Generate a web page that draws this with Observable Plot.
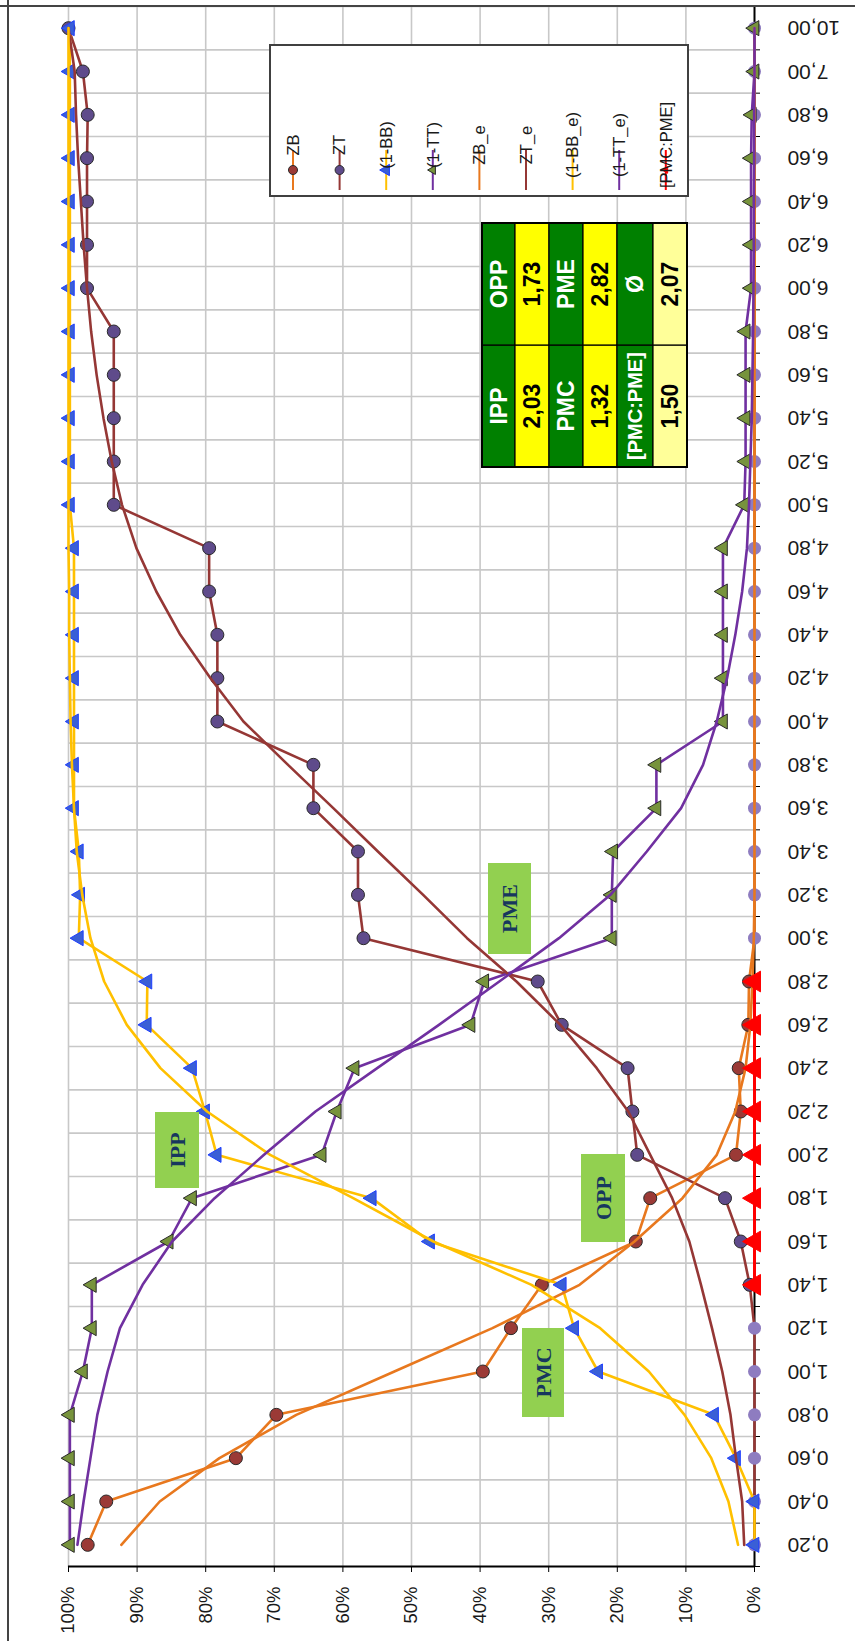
<!DOCTYPE html>
<html>
<head>
<meta charset="utf-8">
<script src="https://cdn.jsdelivr.net/npm/d3@7"></script>
<script src="https://cdn.jsdelivr.net/npm/@observablehq/plot@0.6"></script>
<style>
html,body{margin:0;padding:0;background:#fff;}
body{width:855px;height:1641px;overflow:hidden;position:relative;}
#wrap{position:absolute;left:0;top:0;width:1641px;height:855px;transform-origin:0 0;transform:translate(0,1641px) rotate(-90deg);}
</style>
</head>
<body>
<div id="wrap"></div>
<script>
// ---------- data ----------
const categories = ["0,20","0,40","0,60","0,80","1,00","1,20","1,40","1,60","1,80","2,00","2,20","2,40","2,60","2,80","3,00","3,20","3,40","3,60","3,80","4,00","4,20","4,40","4,60","4,80","5,00","5,20","5,40","5,60","5,80","6,00","6,20","6,40","6,60","6,80","7,00","10,00"];
const yTicks = [0,10,20,30,40,50,60,70,80,90,100];

const ZB   = [97.2,94.5,75.6,69.7,39.6,35.5,31.0,17.3,15.2,2.7,2.0,2.3,0.9,0.8,0,0,0,0,0,0,0,0,0,0,0,0,0,0,0,0,0,0,0,0,0,0];
const ZT   = [0,0,0,0,0,0,0.7,2.0,4.3,17.1,17.8,18.5,28.1,31.6,57.0,57.8,57.8,64.3,64.3,78.3,78.3,78.3,79.5,79.5,93.4,93.4,93.4,93.4,93.4,97.3,97.3,97.3,97.3,97.2,97.9,100];
const BB1  = [0,0,2.7,5.9,22.8,26.3,28.1,47.3,55.8,78.4,80.1,82.0,88.6,88.5,98.5,98.3,98.5,99.2,99.2,99.2,99.2,99.2,99.2,99.2,99.8,99.8,99.8,99.8,99.8,99.8,99.8,99.8,99.8,99.8,99.8,99.8];
const TT1  = [99.8,99.8,99.8,99.8,97.9,96.6,96.6,85.4,82.0,63.1,60.9,58.3,41.4,39.4,20.8,20.8,20.6,14.3,14.3,4.6,4.6,4.6,4.6,4.6,1.5,1.3,1.3,1.3,1.3,0.5,0.5,0.5,0.5,0.4,0,0];
const ZB_e = [92.3,86.7,78.0,66.8,52.5,38.2,25.5,17.5,10.5,5.5,2.8,1.3,0.6,0.3,0.1,0,0,0,0,0,0,0,0,0,0,0,0,0,0,0,0,0,0,0,0,0];
const ZT_e = [1.5,1.8,2.7,3.5,4.7,6.2,7.8,9.5,12.0,15.2,18.4,23.0,28.3,34.7,41.9,48.3,54.9,61.4,68.0,74.5,79.3,83.7,87.2,90.1,92.2,93.7,94.9,95.9,96.7,97.3,97.8,98.2,98.6,98.9,99.1,100];
const BB_e = [2.4,3.8,6.3,10.2,15.4,22.5,32.5,46.8,58.5,70.6,79.8,86.6,91.5,94.8,96.8,98.0,98.8,99.2,99.5,99.7,99.8,99.9,99.9,100,100,100,100,100,100,100,100,100,100,100,100,100];
const TT_e = [98.7,97.8,96.8,95.8,94.3,92.5,89.2,84.9,78.7,71.5,64.0,55.0,46.0,37.2,28.5,21.0,15.7,10.7,7.5,5.5,4.0,2.8,1.8,1.1,0.8,0.6,0.4,0.3,0.2,0.15,0.1,0.1,0.05,0.05,0,0];
const PMCPME = [null,null,null,null,null,null,0,0,0,0,0,0,0,0,null,null,null,null,null,null,null,null,null,null,null,null,null,null,null,null,null,null,null,null,null,null];

const seriesNames = ["ZB","ZT","(1-BB)","(1-TT)","ZB_e","ZT_e","(1-BB_e)","(1-TT_e)","[PMC:PME]"];

const tableLabelsA = ["IPP","PMC","[PMC:PME]"];
const tableValuesA = ["2,03","1,32","1,50"];
const tableLabelsB = ["OPP","PME","Ø"];
const tableValuesB = ["1,73","2,82","2,07"];

const annotationLabels = ["PMC","IPP","OPP","PME"];

// ---------- styles ----------
const C = {
  orange: "#e8781e", brown: "#953735", gold: "#ffc000", purple: "#7030a0", red: "#ff0000",
  zbFill: "#9b3a36", ztFill: "#5f4b8b", bbFill: "#3a5fd6", bbStroke: "#1f3fff", ttFill: "#77933c",
  zeroFill: "#8e7cc0", grid: "#c8c8c8"
};

const W = 1641, H = 855;
const rows = v => v.map((val, i) => ({i, v: val}));
const idx = d3.range(categories.length);
const bounds = d3.range(categories.length + 1).map(k => k - 0.5);

const plot = Plot.plot({
  width: W, height: H,
  marginLeft: 74, marginRight: 7, marginTop: 68, marginBottom: 101,
  x: {type: "linear", domain: [-0.5, categories.length - 0.5], axis: null, label: null},
  y: {domain: [0, 100], axis: null, label: null},
  style: {fontFamily: "'Liberation Sans', Arial, sans-serif", background: "white", overflow: "visible"},
  marks: [
    Plot.ruleY(yTicks.filter(d => d > 0), {stroke: C.grid, strokeWidth: 1.6}),
    Plot.ruleX(bounds.slice(1), {stroke: C.grid, strokeWidth: 1.6}),
    Plot.ruleX([bounds[0]], {stroke: "#000", strokeWidth: 2}),
    Plot.ruleY([0], {stroke: "#000", strokeWidth: 2}),
    Plot.axisY(yTicks, {label: null, tickSize: 5, tickPadding: 15, tickFormat: d => d + "%", fontSize: 18.5, stroke: "#000", fill: "#1a1a1a"}),
    Plot.axisX(bounds, {label: null, tickSize: 6, tickFormat: () => "", stroke: "#000"}),
    Plot.axisX(idx, {label: null, tickSize: 0, tickPadding: 33, tickRotate: -90, tickFormat: i => categories[i], fontSize: 21, fill: "#1a1a1a"}),

    // ZB
    Plot.line(rows(ZB), {x: "i", y: "v", stroke: C.orange, strokeWidth: 2.6}),
    Plot.dot(rows(ZB), {x: "i", y: "v", r: 6.5, fill: C.zbFill, stroke: "#2a2a2a", strokeWidth: 1, filter: d => d.v > 0}),
    Plot.dot(rows(ZB), {x: "i", y: "v", r: 6.5, fill: C.zeroFill, filter: d => d.v === 0}),
    // ZT
    Plot.line(rows(ZT), {x: "i", y: "v", stroke: C.brown, strokeWidth: 2.6}),
    Plot.dot(rows(ZT), {x: "i", y: "v", r: 6.5, fill: C.ztFill, stroke: "#2a2a2a", strokeWidth: 1, filter: d => d.v > 0}),
    Plot.dot(rows(ZT), {x: "i", y: "v", r: 6.5, fill: C.zeroFill, filter: d => d.v === 0}),
    // (1-BB)
    Plot.line(rows(BB1), {x: "i", y: "v", stroke: C.gold, strokeWidth: 2.6}),
    Plot.dot(rows(BB1), {x: "i", y: "v", r: 5.6, symbol: "triangle", fill: C.bbFill, stroke: C.bbStroke, strokeWidth: 1}),
    // (1-TT)
    Plot.line(rows(TT1), {x: "i", y: "v", stroke: C.purple, strokeWidth: 2.6}),
    Plot.dot(rows(TT1), {x: "i", y: "v", r: 5.6, symbol: "triangle", fill: C.ttFill, stroke: "#2a2a2a", strokeWidth: 1}),
    // smooth estimates
    Plot.line(rows(ZB_e), {x: "i", y: "v", stroke: C.orange, strokeWidth: 2.6}),
    Plot.line(rows(ZT_e), {x: "i", y: "v", stroke: C.brown, strokeWidth: 2.6}),
    Plot.line(rows(BB_e), {x: "i", y: "v", stroke: C.gold, strokeWidth: 2.6}),
    Plot.line(rows(TT_e), {x: "i", y: "v", stroke: C.purple, strokeWidth: 2.6}),
    // [PMC:PME]
    Plot.line(rows(PMCPME), {x: "i", y: "v", stroke: C.red, strokeWidth: 3}),
    Plot.dot(rows(PMCPME), {x: "i", y: "v", r: 7.7, symbol: "triangle", fill: C.red, stroke: C.red, strokeWidth: 1, filter: d => d.v != null})
  ]
});

document.getElementById("wrap").appendChild(plot);
const svg = d3.select(plot);

// ---------- chart frame ----------
svg.append("line").attr("x1", 0).attr("x2", W).attr("y1", 8).attr("y2", 8).attr("stroke", "#444").attr("stroke-width", 2);
svg.append("line").attr("x1", 1635).attr("x2", 1635).attr("y1", 0).attr("y2", H).attr("stroke", "#444").attr("stroke-width", 2);

// ---------- annotation boxes ----------
const annBoxes = [
  {x: 224, y: 522, w: 89, h: 42},
  {x: 453, y: 155, w: 76, h: 44},
  {x: 399, y: 581, w: 88, h: 44},
  {x: 687, y: 488, w: 91, h: 43}
];
annBoxes.forEach((b, k) => {
  const g = svg.append("g");
  g.append("rect").attr("x", b.x).attr("y", b.y).attr("width", b.w).attr("height", b.h).attr("fill", "#92d050");
  g.append("text").attr("x", b.x + b.w / 2).attr("y", b.y + b.h / 2).attr("dy", "0.36em")
    .attr("text-anchor", "middle").attr("font-family", "'Liberation Serif', 'Times New Roman', serif")
    .attr("font-weight", "bold").attr("font-size", 22).attr("fill", "#17375e").text(annotationLabels[k]);
});

// ---------- table ----------
const colX = [1174, 1296, 1418];
const rowY = [482, 515, 549, 583, 617, 653, 687];
const cellRows = [
  {texts: [tableLabelsA[0], tableLabelsB[0]], fill: "#008000", color: "#fff"},
  {texts: [tableValuesA[0], tableValuesB[0]], fill: "#ffff00", color: "#000"},
  {texts: [tableLabelsA[1], tableLabelsB[1]], fill: "#008000", color: "#fff"},
  {texts: [tableValuesA[1], tableValuesB[1]], fill: "#ffff00", color: "#000"},
  {texts: [tableLabelsA[2], tableLabelsB[2]], fill: "#008000", color: "#fff"},
  {texts: [tableValuesA[2], tableValuesB[2]], fill: "#ffff99", color: "#000"}
];
const tg = svg.append("g");
cellRows.forEach((r, ri) => {
  for (let c = 0; c < 2; c++) {
    const x0 = colX[c], x1 = colX[c + 1], y0 = rowY[ri], y1 = rowY[ri + 1];
    tg.append("rect").attr("x", x0).attr("y", y0).attr("width", x1 - x0).attr("height", y1 - y0)
      .attr("fill", r.fill).attr("stroke", "#000").attr("stroke-width", 1.2);
    tg.append("text").attr("x", (x0 + x1) / 2).attr("y", (y0 + y1) / 2).attr("dy", "0.36em")
      .attr("text-anchor", "middle").attr("font-family", "'Liberation Sans', Arial, sans-serif")
      .attr("font-weight", "bold").attr("font-size", r.texts[c].length > 6 ? 20 : 23).attr("fill", r.color).text(r.texts[c]);
  }
});
tg.append("rect").attr("x", colX[0]).attr("y", rowY[0]).attr("width", colX[2] - colX[0]).attr("height", rowY[6] - rowY[0])
  .attr("fill", "none").attr("stroke", "#000").attr("stroke-width", 2);

// ---------- legend ----------
const lg = svg.append("g");
lg.append("rect").attr("x", 1445).attr("y", 270).attr("width", 151).attr("height", 418)
  .attr("fill", "#fff").attr("stroke", "#404040").attr("stroke-width", 2);
const legendStyle = [
  {line: C.orange, sym: d3.symbolCircle, size: 64, fill: C.zbFill, stroke: "#2a2a2a"},
  {line: C.brown, sym: d3.symbolCircle, size: 64, fill: C.ztFill, stroke: "#2a2a2a"},
  {line: C.gold, sym: d3.symbolTriangle, size: 55, fill: C.bbFill, stroke: C.bbStroke},
  {line: C.purple, sym: d3.symbolTriangle, size: 35, fill: C.ttFill, stroke: "#2a2a2a"},
  {line: C.orange}, {line: C.brown}, {line: C.gold}, {line: C.purple},
  {line: C.red, sym: d3.symbolTriangle, size: 18, fill: C.red, stroke: C.red}
];
seriesNames.forEach((name, k) => {
  const y = 293 + 46.6 * k;
  const s = legendStyle[k];
  lg.append("line").attr("x1", 1451).attr("x2", 1491).attr("y1", y).attr("y2", y).attr("stroke", s.line).attr("stroke-width", 2);
  if (s.sym) {
    lg.append("path").attr("d", d3.symbol(s.sym, s.size)()).attr("transform", `translate(1471,${y})`)
      .attr("fill", s.fill).attr("stroke", s.stroke).attr("stroke-width", 1);
  }
  lg.append("text").attr("x", 1496).attr("y", y).attr("dy", "0.35em")
    .attr("font-family", "'Liberation Sans', Arial, sans-serif").attr("font-size", 16.5).attr("fill", "#1a1a1a").text(name);
});
</script>
</body>
</html>
